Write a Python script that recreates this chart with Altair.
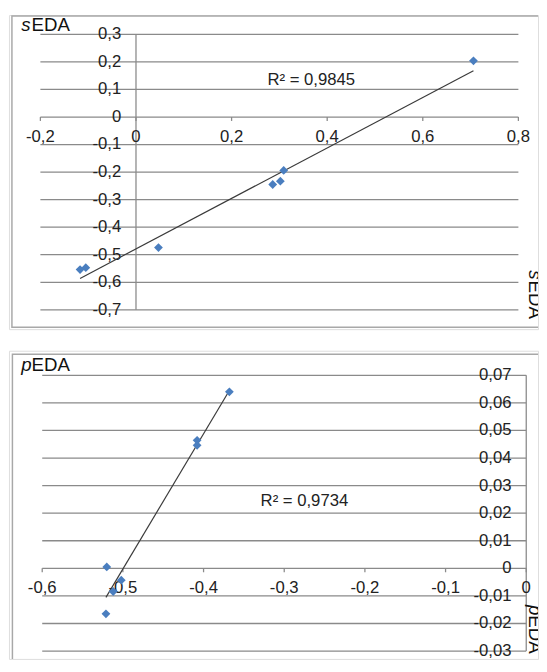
import altair as alt
import pandas as pd

# ---------------- data ----------------
# top panel: sEDA vs sEDA
s_x = [0.706, 0.309, 0.302, 0.286, 0.047, -0.105, -0.117]
s_y = [0.204, -0.194, -0.233, -0.245, -0.474, -0.547, -0.554]
s_xticks = [-0.2, 0.0, 0.2, 0.4, 0.6, 0.8]
s_xlabels = ["-0,2", "0", "0,2", "0,4", "0,6", "0,8"]
s_yticks = [0.3, 0.2, 0.1, 0.0, -0.1, -0.2, -0.3, -0.4, -0.5, -0.6, -0.7]
s_ylabels = ["0,3", "0,2", "0,1", "0", "-0,1", "-0,2", "-0,3", "-0,4", "-0,5", "-0,6", "-0,7"]
s_r2 = "R² = 0,9845"
s_letter = "s"

# bottom panel: pEDA vs pEDA
p_x = [-0.368, -0.408, -0.408, -0.520, -0.502, -0.512, -0.521]
p_y = [0.0640, 0.0464, 0.0446, 0.0005, -0.0043, -0.0084, -0.0165]
p_xticks = [-0.6, -0.5, -0.4, -0.3, -0.2, -0.1, 0.0]
p_xlabels = ["-0,6", "-0,5", "-0,4", "-0,3", "-0,2", "-0,1", "0"]
p_yticks = [0.07, 0.06, 0.05, 0.04, 0.03, 0.02, 0.01, 0.0, -0.01, -0.02, -0.03]
p_ylabels = ["0,07", "0,06", "0,05", "0,04", "0,03", "0,02", "0,01", "0",
             "-0,01", "-0,02", "-0,03"]
p_r2 = "R² = 0,9734"
p_letter = "p"

# ---------------- styling ----------------
FONT = "Liberation Sans"
GRID = "#8a8a8a"
FRAME = "#a8a8a8"
TXT = "#222222"
BLUE = "#4a7ebf"
W = 539


def panel(px, py, xt, xl, yt, yl, r2, letter, H, xdom, ydom, frame, r2pos, title_base, rot_y):
    xs = alt.Scale(domain=xdom, nice=False, zero=False)
    ys = alt.Scale(domain=ydom, nice=False, zero=False)
    pts = pd.DataFrame({"x": px, "y": py})
    grid = pd.DataFrame({"v": yt, "lab": yl, "a": xt[0], "b": xt[-1], "z": 0.0})
    xtick = pd.DataFrame({"v": xt, "lab": xl, "z": 0.0})
    axis = pd.DataFrame({"z": [0.0], "lo": [yt[-1]], "hi": [yt[0]]})
    one = pd.DataFrame({"k": [0]})

    X = lambda f: alt.X(f, type="quantitative", scale=xs, axis=None)
    Y = lambda f: alt.Y(f, type="quantitative", scale=ys, axis=None)

    frame_l = alt.Chart(one).mark_rect(
        fill="transparent", stroke=FRAME, strokeWidth=1.5, clip=True
    ).encode(x=alt.value(frame[0]), x2=alt.value(W + 30),
             y=alt.value(frame[1]), y2=alt.value(frame[2]))

    grid_l = alt.Chart(grid).mark_rule(color=GRID, strokeWidth=1.3).encode(
        y=Y("v"), x=X("a"), x2="b")
    vaxis_l = alt.Chart(axis).mark_rule(color=GRID, strokeWidth=1.3).encode(
        x=X("z"), y=Y("lo"), y2="hi")
    ticks_l = alt.Chart(xtick).mark_rule(color=GRID, strokeWidth=1.3, y2Offset=4).encode(
        x=X("v"), y=Y("z"), y2="z")
    xlab_l = alt.Chart(xtick).mark_text(
        font=FONT, fontSize=17, color=TXT, align="center", baseline="middle", dy=20
    ).encode(x=X("v"), y=Y("z"), text="lab:N")
    ylab_l = alt.Chart(grid).mark_text(
        font=FONT, fontSize=17, color=TXT, align="right", baseline="middle", dx=-15
    ).encode(x=X("z"), y=Y("v"), text="lab:N")

    trend_l = alt.Chart(pts).transform_regression("x", "y").mark_line(
        color="#3a3a3a", strokeWidth=1.2).encode(x=X("x"), y=Y("y"))
    pts_l = alt.Chart(pts).mark_point(
        shape="diamond", filled=True, color=BLUE, opacity=1, size=80
    ).encode(x=X("x"), y=Y("y"))

    r2_l = alt.Chart(one).mark_text(
        font=FONT, fontSize=17, color=TXT, align="center", baseline="middle", text=r2
    ).encode(x=alt.value(r2pos[0]), y=alt.value(r2pos[1]))

    t1 = alt.Chart(one).mark_text(
        font=FONT, fontSize=19, color="#111111", align="left", baseline="alphabetic",
        fontStyle="italic", text=letter
    ).encode(x=alt.value(12.5), y=alt.value(title_base))
    t2 = alt.Chart(one).mark_text(
        font=FONT, fontSize=19, color="#111111", align="left", baseline="alphabetic",
        text="EDA"
    ).encode(x=alt.value(23), y=alt.value(title_base))

    r1 = alt.Chart(one).mark_text(
        font=FONT, fontSize=19, color="#111111", align="left", baseline="alphabetic",
        fontStyle="italic", angle=90, clip=True, text=letter
    ).encode(x=alt.value(530), y=alt.value(rot_y))
    r2t = alt.Chart(one).mark_text(
        font=FONT, fontSize=19, color="#111111", align="left", baseline="alphabetic",
        angle=90, clip=True, text="EDA"
    ).encode(x=alt.value(530), y=alt.value(rot_y + 10.5))

    return alt.layer(frame_l, grid_l, vaxis_l, ticks_l, xlab_l, ylab_l, trend_l, pts_l,
                     r2_l, t1, t2, r1, r2t).properties(width=W, height=H)


# pixel anchors -> scale domains (page origin of each panel: x=8)
H1 = 320
top_xdom = [(8 - 40) / 487 - 0.2, (547 - 40) / 487 - 0.2]
top_ydom = [0.3 - (8 + H1 - 27.7) / 280.6, 0.3 + (27.7 - 8) / 280.6]

H2 = 314
bot_xdom = [(8 - 535) / 821.9, (547 - 535) / 821.9]
bot_ydom = [(569.7 - (348 + H2)) / 2810, (569.7 - 348) / 2810]

top = panel(s_x, s_y, s_xticks, s_xlabels, s_yticks, s_ylabels, s_r2, s_letter,
            H1, top_xdom, top_ydom, frame=(3, 1, 318), r2pos=(308, 66),
            title_base=16, rot_y=260)
bottom = panel(p_x, p_y, p_xticks, p_xlabels, p_yticks, p_ylabels, p_r2, p_letter,
               H2, bot_xdom, bot_ydom, frame=(3.5, 3.5, H2 + 30), r2pos=(301, 153),
               title_base=20.5, rot_y=259)

chart = alt.vconcat(top, bottom, spacing=20).properties(
    padding={"left": 0, "top": 0, "right": 0, "bottom": 0}
).configure_view(stroke=None).configure(background="white")

chart.save("out.html", embed_options={"renderer": "svg", "actions": False})
